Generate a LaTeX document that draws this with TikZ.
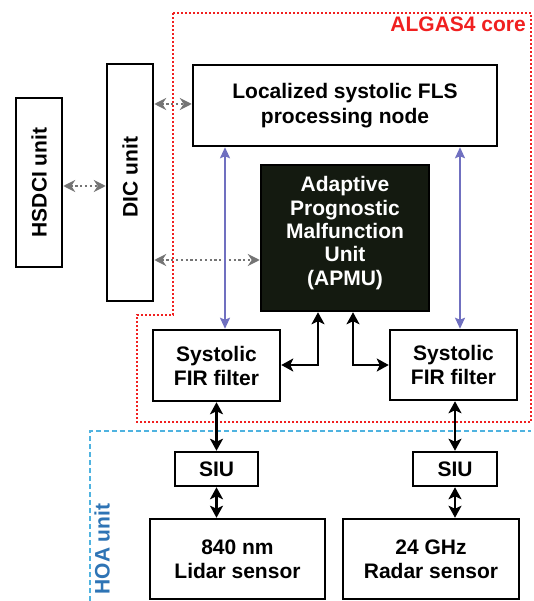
\documentclass[tikz,border=0pt]{standalone}
\usepackage{fontspec}
\setmainfont{Liberation Sans}
\usetikzlibrary{arrows.meta,calc}
\definecolor{apmufill}{HTML}{141A10}
\definecolor{redline}{HTML}{F02020}
\definecolor{hoaline}{HTML}{4FB3E0}
\definecolor{hoatext}{HTML}{2E74B5}
\definecolor{blink}{HTML}{7070C0}
\definecolor{glink}{HTML}{747474}
\begin{document}
\begin{tikzpicture}[x=1pt,y=-1pt,
  every node/.style={font=\fontsize{21}{24}\selectfont\bfseries, align=center, inner sep=0pt},
  box/.style={draw=black, line width=2.5pt, fill=white},
  blackarrow/.style={line width=2.2pt, {Stealth[length=12pt,width=13pt,inset=3pt]}-{Stealth[length=12pt,width=13pt,inset=3pt]}},
  bluearrow/.style={draw=blink, line width=1.8pt, {Stealth[length=11pt,width=10pt,inset=2pt]}-{Stealth[length=11pt,width=10pt,inset=2pt]}},
  grayarrow/.style={draw=glink, line width=2.2pt, dash pattern=on 2.2pt off 2.6pt, {Stealth[length=12pt,width=12pt,inset=4pt]}-{Stealth[length=12pt,width=12pt,inset=4pt]}}
]
\useasboundingbox (0,0) rectangle (533,601);

% group outlines
\draw[redline, line width=2pt, dash pattern=on 2pt off 2pt]
  (173,13) -- (531,13) -- (531,422) -- (137,422) -- (137,315) -- (173,315) -- cycle;
\draw[hoaline, line width=1.5pt, dash pattern=on 5pt off 3pt]
  (90,601) -- (90,431) -- (531,431);
\node[text=redline, anchor=east] (algas) at (526,24) {ALGAS4 core};
\node[text=hoatext, rotate=90] (hoa) at (102,549) {HOA unit};

% boxes
\node[box, minimum width=46pt, minimum height=169pt] (hsdci) at (39,182.5) {\rotatebox{90}{HSDCI unit}};
\node[box, minimum width=46pt, minimum height=237pt] (dic) at (130,182.5) {};
\node (dictext) at (130,177) {\rotatebox{90}{DIC unit}};
\node[box, minimum width=304pt, minimum height=81pt] (fls) at (345,105.5) {Localized systolic FLS\\[1pt]processing node};
\node[box, fill=apmufill, text=white, minimum width=168pt, minimum height=146pt] (apmu) at (345,238) {};
\node[text=white, font=\fontsize{21}{23.3}\selectfont\bfseries] (apmutext) at (345,233) {Adaptive\\Prognostic\\Malfunction\\Unit\\(APMU)};
\node[box, minimum width=127pt, minimum height=71pt] (firL) at (216.5,365.5) {Systolic\\FIR filter};
\node[box, minimum width=127pt, minimum height=70pt] (firR) at (453.5,365) {Systolic\\FIR filter};
\node[box, minimum width=83pt, minimum height=34pt] (siuL) at (216.5,469) {SIU};
\node[box, minimum width=84pt, minimum height=34pt] (siuR) at (455,469) {SIU};
\node[box, minimum width=175pt, minimum height=80pt] (lidar) at (237.5,559) {840 nm\\Lidar sensor};
\node[box, minimum width=176pt, minimum height=80pt] (radar) at (431,559) {24 GHz\\Radar sensor};

% helper coordinates
\coordinate (g1) at (0,186);
\coordinate (g2) at (0,104);
\coordinate (g3) at (0,260);
\coordinate (bl) at (225,0);
\coordinate (br) at (460,0);
\coordinate (ka) at (318,365);
\coordinate (kb) at (353,365);

% gray dotted links
\draw[grayarrow] (hsdci.east |- g1) -- (dic.west |- g1);
\draw[grayarrow] (dic.east |- g2) -- (fls.west |- g2);
\draw[grayarrow] (dic.east |- g3) -- (apmu.west |- g3);

% blue links
\draw[bluearrow] (bl |- fls.south) -- (bl |- firL.north);
\draw[bluearrow] (br |- fls.south) -- (br |- firR.north);

% black links
\draw[blackarrow] (firL.east |- ka) -- (ka) -- (ka |- apmu.south);
\draw[blackarrow] (kb |- apmu.south) -- (kb) -- (kb -| firR.west);
\draw[blackarrow] (firL.south) -- (siuL.north);
\draw[blackarrow] (siuR.north |- firR.south) -- (siuR.north);
\draw[blackarrow] (siuL.south) -- (siuL.south |- lidar.north);
\draw[blackarrow] (siuR.south) -- (siuR.south |- radar.north);
\end{tikzpicture}
\end{document}
